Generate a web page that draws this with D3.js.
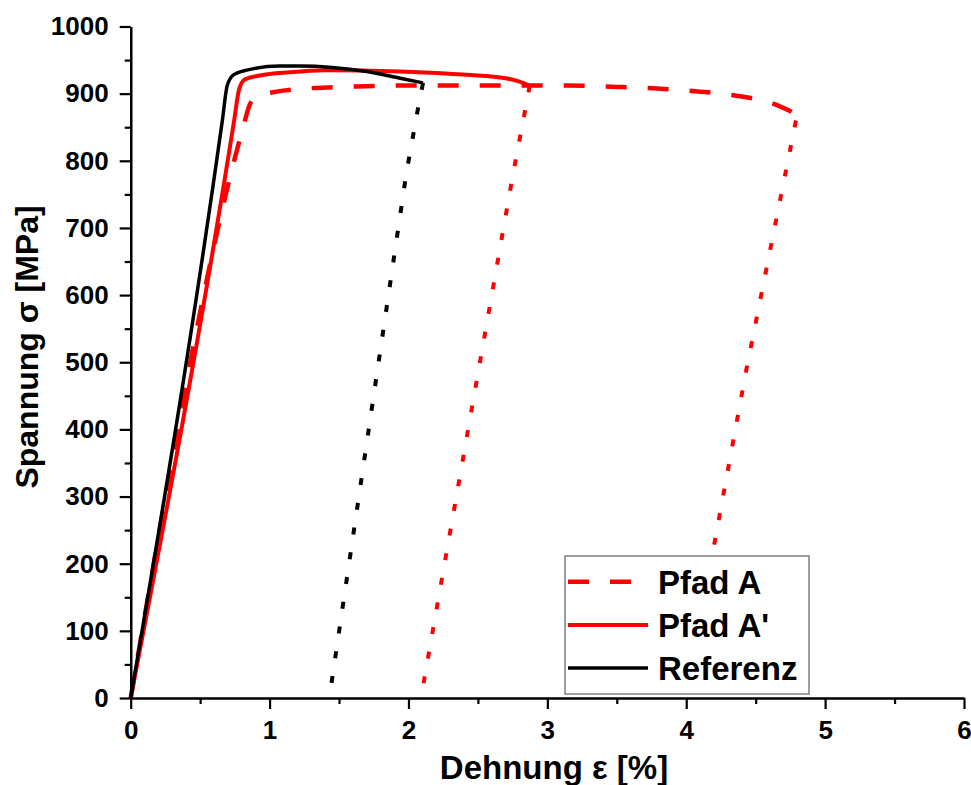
<!DOCTYPE html>
<html>
<head>
<meta charset="utf-8">
<script src="https://cdn.jsdelivr.net/npm/d3@7"></script>
<style>
  html, body { margin: 0; padding: 0; background: #fff; }
  svg { display: block; font-family: "Liberation Sans", Arial, sans-serif; font-weight: bold; }
</style>
</head>
<body>
<svg id="chart" width="971" height="785"></svg>
<script>
// Stress–strain curves: strain ε [%] and stress σ [MPa]
const seriesNames = ["Pfad A", "Pfad A'", "Referenz"];

// Pfad A (dashed red) loading curve
const pfadA_strain = [0, 0.81, 0.858, 0.90, 0.96, 1.05, 1.218, 1.70, 1.94, 2.50, 3.14, 3.50, 3.76, 4.10, 4.36, 4.60, 4.79];
const pfadA_stress = [0, 850, 884, 894, 899, 903, 907, 911, 912, 912, 912, 910, 908, 903, 897, 887, 870];
// Pfad A unloading (dotted red)
const pfadA_unload_strain = [4.79, 4.43, 4.20, 4.00];
const pfadA_unload_stress = [860, 486, 227, 0];

// Pfad A' (solid red) loading curve
const pfadA2_strain = [0, 0.745, 0.78, 0.822, 0.93, 1.146, 1.40, 1.94, 2.42, 2.70, 2.80, 2.873];
const pfadA2_stress = [0, 860, 906, 921, 927, 932, 935, 933, 928, 923, 918, 912];
// Pfad A' unloading (dotted red)
const pfadA2_unload_strain = [2.873, 2.85, 2.75, 2.09];
const pfadA2_unload_stress = [912, 886, 777, 0];

// Referenz (solid black) loading curve
const ref_strain = [0, 0.66, 0.695, 0.74, 0.835, 1.074, 1.218, 1.45, 1.70, 1.94, 2.105];
const ref_stress = [0, 860, 912, 928, 935, 941, 941, 939, 933, 923, 916];
// Referenz unloading (dotted black)
const ref_unload_strain = [2.105, 2.08, 1.985, 1.43];
const ref_unload_stress = [916, 891, 782, 0];

// Axis ticks
const xTicks = [0, 1, 2, 3, 4, 5, 6];
const xMinorTicks = [0.5, 1.5, 2.5, 3.5, 4.5, 5.5];
const yTicks = [0, 100, 200, 300, 400, 500, 600, 700, 800, 900, 1000];
const yMinorTicks = [50, 150, 250, 350, 450, 550, 650, 750, 850, 950];

const xLabel = "Dehnung ε [%]";
const yLabel = "Spannung σ [MPa]";

const svg = d3.select("#chart");

const x = d3.scaleLinear().domain([0, 6]).range([130.7, 964]);
const y = d3.scaleLinear().domain([0, 1000]).range([698, 26.5]);

const zip = (xs, ys) => xs.map((v, i) => [v, ys[i]]);

const smooth = d3.line().x(d => x(d[0])).y(d => y(d[1])).curve(d3.curveMonotoneX);
const straight = d3.line().x(d => x(d[0])).y(d => y(d[1]));

const red = "#ff0000";
const black = "#000000";
const dotted = "7,18";
const dashed = "21,21";

// Unloading paths (dotted)
svg.append("path").attr("d", straight(zip(ref_unload_strain, ref_unload_stress)))
  .attr("fill", "none").attr("stroke", black).attr("stroke-width", 4).attr("stroke-dasharray", dotted);
svg.append("path").attr("d", straight(zip(pfadA2_unload_strain, pfadA2_unload_stress)))
  .attr("fill", "none").attr("stroke", red).attr("stroke-width", 4).attr("stroke-dasharray", dotted);
svg.append("path").attr("d", straight(zip(pfadA_unload_strain, pfadA_unload_stress)))
  .attr("fill", "none").attr("stroke", red).attr("stroke-width", 4).attr("stroke-dasharray", dotted);

// Loading paths
svg.append("path").attr("d", smooth(zip(pfadA_strain, pfadA_stress)))
  .attr("fill", "none").attr("stroke", red).attr("stroke-width", 4.5).attr("stroke-dasharray", dashed);
svg.append("path").attr("d", smooth(zip(pfadA2_strain, pfadA2_stress)))
  .attr("fill", "none").attr("stroke", red).attr("stroke-width", 4);
svg.append("path").attr("d", smooth(zip(ref_strain, ref_stress)))
  .attr("fill", "none").attr("stroke", black).attr("stroke-width", 3.5);

// Axes
const gx = svg.append("g").attr("transform", `translate(0,${y(0)})`)
  .call(d3.axisBottom(x).tickValues(xTicks).tickFormat(d3.format("d")).tickSize(11).tickSizeOuter(0).tickPadding(12));
const gxm = svg.append("g").attr("transform", `translate(0,${y(0)})`)
  .call(d3.axisBottom(x).tickValues(xMinorTicks).tickFormat("").tickSize(6).tickSizeOuter(0));
const gy = svg.append("g").attr("transform", `translate(${x(0)},0)`)
  .call(d3.axisLeft(y).tickValues(yTicks).tickFormat(d3.format("d")).tickSize(11).tickSizeOuter(0).tickPadding(11));
const gym = svg.append("g").attr("transform", `translate(${x(0)},0)`)
  .call(d3.axisLeft(y).tickValues(yMinorTicks).tickFormat("").tickSize(6).tickSizeOuter(0));

[gx, gxm, gy, gym].forEach(g => {
  g.selectAll(".domain").attr("stroke", "#000").attr("stroke-width", 2.2);
  g.selectAll(".tick line").attr("stroke", "#000").attr("stroke-width", 2.2);
  g.selectAll(".tick text")
    .attr("fill", "#000")
    .style("font-family", "'Liberation Sans', Arial, sans-serif")
    .style("font-weight", "bold")
    .style("font-size", "26px");
});

// Axis titles
svg.append("text")
  .attr("x", 554).attr("y", 779)
  .attr("text-anchor", "middle")
  .style("font-size", "33px")
  .text(xLabel);
svg.append("text")
  .attr("transform", "translate(38,347) rotate(-90)")
  .attr("text-anchor", "middle")
  .style("font-size", "32px")
  .text(yLabel);

// Legend
const legend = svg.append("g");
legend.append("rect")
  .attr("x", 565).attr("y", 556).attr("width", 244).attr("height", 138)
  .attr("fill", "#fff").attr("stroke", "#7f7f7f").attr("stroke-width", 1.5);
const legendStyles = [
  { color: red, dash: dashed, width: 4.5 },
  { color: red, dash: null, width: 4 },
  { color: black, dash: null, width: 3.5 }
];
const legendRowY = [581.7, 625, 668];
seriesNames.forEach((name, i) => {
  const ly = legendRowY[i];
  legend.append("line")
    .attr("x1", 568).attr("x2", 648).attr("y1", ly).attr("y2", ly)
    .attr("stroke", legendStyles[i].color)
    .attr("stroke-width", legendStyles[i].width)
    .attr("stroke-dasharray", legendStyles[i].dash);
  legend.append("text")
    .attr("x", 658).attr("y", ly + 12)
    .style("font-size", "33px")
    .text(name);
});
</script>
</body>
</html>
